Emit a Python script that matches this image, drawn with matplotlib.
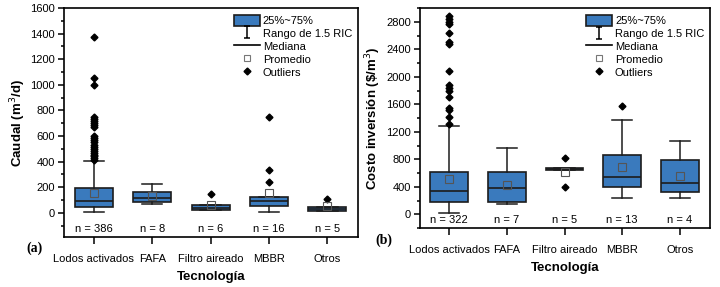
import matplotlib
matplotlib.use("Agg")
from matplotlib import pyplot as plt
from matplotlib.path import Path
from matplotlib.patches import Patch
from matplotlib.lines import Line2D
from matplotlib.ticker import MultipleLocator

plt.rcParams['font.family'] = ['Liberation Sans', 'DejaVu Sans']

categories = ['Lodos activados', 'FAFA', 'Filtro aireado', 'MBBR', 'Otros']

# (a) Caudal (m3/d)
caudal_q1 = [42, 84, 21, 52, 16]
caudal_med = [91, 117, 39, 91, 31]
caudal_q3 = [190, 164, 58, 123, 47]
caudal_whislo = [8, 66, 21, 8, 16]
caudal_whishi = [402, 222, 58, 123, 47]
caudal_mean = [151, 133, 62, 151, 55]
caudal_n = [386, 8, 6, 16, 5]
caudal_fliers = [
    [1375, 1055, 995, 750, 735, 720, 700, 685, 670, 600, 585, 570, 555,
     530, 515, 500, 485, 470, 455, 440, 425, 415],
    [],
    [144],
    [750, 334, 243],
    [110],
]

# (b) Costo inversion ($/m3)
costo_q1 = [185, 175, 640, 403, 321]
costo_med = [340, 389, 660, 549, 452]
costo_q3 = [622, 612, 680, 865, 792]
costo_whislo = [15, 146, 640, 243, 243]
costo_whishi = [1279, 972, 680, 1366, 1074]
costo_mean = [510, 428, 612, 695, 559]
costo_n = [322, 7, 5, 13, 4]
costo_fliers = [
    [2893, 2850, 2795, 2775, 2640, 2505, 2480, 2080, 1876, 1837, 1798, 1701,
     1546, 1512, 1415, 1317],
    [],
    [817, 403],
    [1580],
    [],
]

BLUE = '#3a7abd'
EDGE = '#1c1c1c'

i_path = Path([(-0.5, 1), (0.5, 1), (0, 1), (0, -1), (-0.5, -1), (0.5, -1)],
              [Path.MOVETO, Path.LINETO, Path.MOVETO, Path.LINETO, Path.MOVETO, Path.LINETO])


def make_stats(q1, med, q3, lo, hi, mean, fliers):
    stats = []
    for i in range(len(q1)):
        stats.append(dict(q1=q1[i], med=med[i], q3=q3[i], whislo=lo[i], whishi=hi[i],
                          mean=mean[i], fliers=fliers[i]))
    return stats


def draw_panel(ax, stats, n, n_y, ylim, major, minor, ylabel, letter, letter_xy):
    ax.bxp(stats, positions=range(1, 6), widths=0.65, capwidths=0.35,
           showmeans=True, patch_artist=True,
           boxprops=dict(facecolor=BLUE, edgecolor=EDGE, linewidth=1.2),
           medianprops=dict(color=EDGE, linewidth=1.2),
           whiskerprops=dict(color=EDGE, linewidth=1.1),
           capprops=dict(color=EDGE, linewidth=1.1),
           meanprops=dict(marker='s', markerfacecolor='none', markeredgecolor='#555555',
                          markersize=5.5, markeredgewidth=0.8),
           flierprops=dict(marker='D', markerfacecolor='black', markeredgecolor='black',
                           markersize=3.5))
    ax.set_xlim(0.49, 5.52)
    ax.set_ylim(*ylim)
    ax.yaxis.set_major_locator(MultipleLocator(major))
    ax.yaxis.set_minor_locator(MultipleLocator(minor))
    ax.set_yticks([t for t in ax.get_yticks() if 0 <= t <= ylim[1]])
    ax.set_ylim(*ylim)
    ax.set_xticks(range(1, 6))
    ax.set_xticklabels(categories)
    ax.tick_params(axis='y', labelsize=8, width=1.1, length=4, direction='out', pad=2.5)
    ax.tick_params(axis='x', labelsize=8, width=1.1, length=5, direction='out', pad=7)
    ax.tick_params(axis='y', which='minor', width=1.1, length=2.5)
    for s in ax.spines.values():
        s.set_linewidth(1.2)
    for i, v in enumerate(n):
        ax.text(i + 1, n_y, 'n = {}'.format(v), ha='center', va='center', fontsize=8)
    ax.set_ylabel(ylabel, fontsize=9.5, fontweight='bold', labelpad=2)
    ax.set_xlabel('Tecnología', fontsize=9.5, fontweight='bold', labelpad=5)
    ax.text(letter_xy[0], letter_xy[1], letter, transform=ax.transAxes, fontsize=10,
            fontweight='bold', family='Liberation Serif', ha='center', va='center')

    handles = [
        Patch(facecolor=BLUE, edgecolor=EDGE, linewidth=1.2),
        Line2D([], [], marker=i_path, markersize=9, linestyle='none', color='black',
               markerfacecolor='none', markeredgewidth=1.1),
        Line2D([], [], color='black', linewidth=1.2),
        Line2D([], [], marker='s', markerfacecolor='none', markeredgecolor='#777777',
               markersize=4, linestyle='none', markeredgewidth=0.8),
        Line2D([], [], marker='D', color='black', markersize=3.5, linestyle='none'),
    ]
    labels = ['25%~75%', 'Rango de 1.5 RIC', 'Mediana', 'Promedio', 'Outliers']
    ax.legend(handles, labels, loc='upper right', bbox_to_anchor=(1.0, 0.995), frameon=False,
              fontsize=8, handlelength=2.3, handleheight=1.15, handletextpad=0.3,
              labelspacing=0.15, borderaxespad=0.1)


fig = plt.figure(figsize=(7.2, 2.87), dpi=100)
ax1 = fig.add_axes([0.089, 0.174, 0.408, 0.798])
ax2 = fig.add_axes([0.583, 0.2056, 0.403, 0.7655])

draw_panel(ax1, make_stats(caudal_q1, caudal_med, caudal_q3, caudal_whislo, caudal_whishi,
                           caudal_mean, caudal_fliers),
           caudal_n, -128, (-190, 1600), 200, 100, 'Caudal (m$^{3}$/d)', '(a)', (-0.10, -0.048))
draw_panel(ax2, make_stats(costo_q1, costo_med, costo_q3, costo_whislo, costo_whishi,
                           costo_mean, costo_fliers),
           costo_n, -83, (-200, 3000), 400, 200, 'Costo inversión (\\$/m$^{3}$)', '(b)',
           (-0.122, -0.055))

fig.savefig('out.png', dpi=100)
